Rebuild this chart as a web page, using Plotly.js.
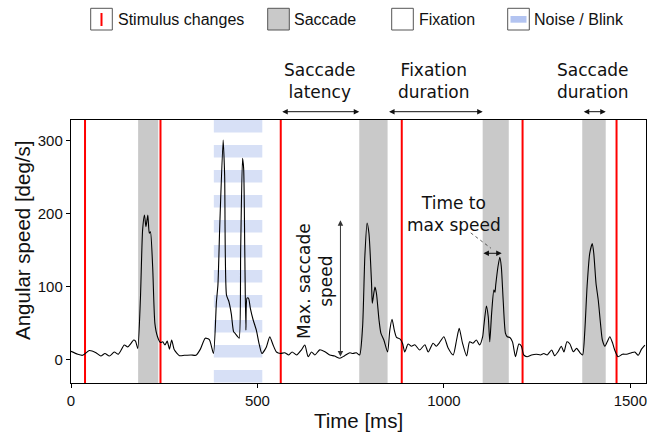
<!DOCTYPE html>
<html>
<head>
<meta charset="utf-8">
<script src="https://cdn.plot.ly/plotly-3.0.1.min.js"></script>
<style>
  html, body { margin: 0; padding: 0; background: #fff; }
  #chart { width: 647px; height: 436px; }
</style>
</head>
<body>
<div id="chart"></div>
<script>
// ---- data ----
const timeMs = [0,18,31,49,67,80,91,103,116,127,143,152,161,168,173,179,186,192,197,201,206,210,213,219,225,232,240,246,252,258,264,270,277,291,304,322,335,347,360,371,382,390,394,399,408,412,417,423,430,436,441,447,451,455,460,463,466,469,472,476,481,488,497,505,512,524,533,542,551,562,573,584,593,605,618,627,636,645,654,667,681,694,707,721,734,748,756,765,774,782,788,794,799,806,808,815,819,826,831,839,849,855,861,867,873,882,889,895,904,913,922,935,949,958,971,980,987,1000,1011,1025,1034,1041,1050,1061,1069,1078,1087,1096,1104,1107,1114,1119,1123,1128,1134,1137,1139,1145,1150,1154,1159,1165,1170,1177,1184,1192,1201,1208,1214,1223,1235,1248,1259,1268,1277,1289,1297,1306,1315,1322,1330,1338,1347,1356,1365,1372,1378,1384,1391,1398,1402,1408,1414,1420,1425,1432,1438,1445,1452,1458,1467,1479,1490,1503,1512,1521,1530,1539];
const speedDeg = [11,7,5.5,12,9,4.5,8,4.5,10,7,19.6,17,22,26.5,25,15,81,177,198,182,198,173,175,127,49,31,23,24,19.6,25,14,26.5,13,5,5.5,6,5.5,14,29,27,8,79,102,184,301,253,88,80,62,38,35,31,29,150,276,262,150,40,84,84,70,55,40,20,8,17,31,19.6,10,8,9,6,10,6,13,19.6,3.6,10,6,13,10.4,6,4.5,1.4,5,9,8,9,6,45,141,187,173,104,77,99,91,54,36,26.5,10,40,55,40,30,28,22,10,21,18,20,12.8,20,10,22,18,22,31,16,6,26.5,42.5,22,4.5,24,22,26.5,19.6,31,45,73,58,24,63,95,92,102,127,140,127,81,36,31,30,24,3.6,21,18,6,3.6,6,7,6,8,6,12.8,5,10.4,18,10,24,21,10.4,15,9,6,40,100,145,159,145,104,81,49,26.5,18,24,31,23,12.8,3.6,7,7,9,10,5.5,14,19.6];
const stimulusTimes = [37.6, 240, 562.5, 887, 1211, 1463];
const saccadeStarts = [180, 773, 1104, 1371];
const saccadeEnds   = [234, 849, 1174, 1434];
const noiseStarts = [383];
const noiseEnds   = [513];
const xTickVals = [0, 500, 1000, 1500];
const yTickVals = [0, 100, 200, 300];
const legendLabels = ["Stimulus changes", "Saccade", "Fixation", "Noise / Blink"];
const peakTimeSacc3 = 1152;
const peakSpeedLabelY = 145.5;
const maxSpeedArrowT = 722.6;
const maxSpeedTop = 191;
const maxSpeedBottom = 1.8;

// ---- layout geometry (pixels) ----
const W = 647, H = 436;
const M = {l: 71, r: 1, t: 120, b: 53};
const plotW = W - M.l - M.r, plotH = H - M.t - M.b;
const px = x => (x - M.l) / plotW;          // pixel x -> paper
const py = y => (H - M.b - y) / plotH;      // pixel y -> paper

const GREY = '#c9c9c9';
const STRIPE = '#d7e0f6';
const LEGBLUE = '#b3c4f1';
const TXT = '#111111';
const annFont = {family: 'DejaVu Sans', size: 17, color: TXT};
const sansFont = 'Liberation Sans, Arial';

const shapes = [];
// saccade spans
saccadeStarts.forEach((s, i) => {
  shapes.push({type: 'rect', xref: 'x', yref: 'paper', x0: s, x1: saccadeEnds[i], y0: 0, y1: 1,
               fillcolor: GREY, line: {width: 0}, layer: 'below'});
});
// noise / blink spans: horizontal hatch stripes
const period = 25 / plotH, thick = 12.4 / plotH;
noiseStarts.forEach((s, i) => {
  for (let k = 0; k < 11; k++) {
    const top = 1 - k * period;
    shapes.push({type: 'rect', xref: 'x', yref: 'paper', x0: s, x1: noiseEnds[i],
                 y0: Math.max(0, top - thick), y1: top,
                 fillcolor: STRIPE, line: {width: 0}, layer: 'below'});
  }
});
// stimulus changes
stimulusTimes.forEach(t => {
  shapes.push({type: 'line', xref: 'x', yref: 'paper', x0: t, x1: t, y0: 0, y1: 1,
               line: {color: '#ff0000', width: 2}, layer: 'below'});
});
// dotted pointer for "time to max speed"
shapes.push({type: 'line', xref: 'x', yref: 'y', x0: 1072, y0: 173.5, x1: 1126, y1: 152.5,
             line: {color: '#333', width: 0.8, dash: 'dot'}});

// legend (custom, above plot)
const legBoxes = [[90.7, 112.3], [267.7, 289.3], [391.7, 413.3], [507.7, 529.3]];
const legFills = ['#ffffff', GREY, '#ffffff', '#ffffff'];
const legTextX = [115.5, 292, 416.5, 532];
const ly0 = 8.3, ly1 = 30;
legBoxes.forEach((b, i) => {
  shapes.push({type: 'rect', xref: 'paper', yref: 'paper', x0: px(b[0]), x1: px(b[1]),
               y0: py(ly1), y1: py(ly0), fillcolor: legFills[i], line: {color: '#555', width: 1}});
});
shapes.push({type: 'line', xref: 'paper', yref: 'paper', x0: px(101.5), x1: px(101.5), y0: py(26), y1: py(13),
             line: {color: '#ff0000', width: 2}});
shapes.push({type: 'rect', xref: 'paper', yref: 'paper', x0: px(510.5), x1: px(526.5), y0: py(22.7), y1: py(16),
             fillcolor: LEGBLUE, line: {width: 0}});

const annotations = [];
legendLabels.forEach((t, i) => {
  annotations.push({xref: 'paper', yref: 'paper', x: px(legTextX[i]), y: py(19.5), text: t,
                    showarrow: false, xanchor: 'left', yanchor: 'middle',
                    font: {family: sansFont, size: 16, color: TXT}});
});

// y-axis title (placed as annotation to match its offset)
annotations.push({xref: 'paper', yref: 'paper', x: px(22), y: py(241), text: 'Angular speed [deg/s]',
                  textangle: -90, showarrow: false, xanchor: 'center', yanchor: 'middle',
                  font: {family: sansFont, size: 20.5, color: TXT}});

// top labels
const topArrowY = py(111.7);
const topTextY = py(80.5);
function hArrow(x0, x1, yv, yref, hs) {
  return {xref: 'x', yref: yref, x: x1, y: yv, axref: 'x', ax: x0,
          ayref: yref === 'paper' ? 'pixel' : 'y', ay: yref === 'paper' ? 0 : yv,
          showarrow: true, arrowside: 'end+start', arrowhead: 2, startarrowhead: 2,
          arrowsize: hs || 1.1, startarrowsize: hs || 1.1, arrowwidth: 1, arrowcolor: '#111', text: ''};
}
annotations.push(hArrow(stimulusTimes[2], saccadeStarts[1], topArrowY, 'paper'));
annotations.push(hArrow(saccadeEnds[1], saccadeStarts[2], topArrowY, 'paper'));
annotations.push(hArrow(saccadeStarts[3], saccadeEnds[3], topArrowY, 'paper'));
annotations.push({xref: 'x', yref: 'paper', x: (stimulusTimes[2] + saccadeStarts[1]) / 2 - 1, y: topTextY,
                  text: 'Saccade<br>latency', showarrow: false, font: annFont, yanchor: 'middle'});
annotations.push({xref: 'x', yref: 'paper', x: 973, y: topTextY,
                  text: 'Fixation<br>duration', showarrow: false, font: annFont, yanchor: 'middle'});
annotations.push({xref: 'x', yref: 'paper', x: 1399, y: topTextY,
                  text: 'Saccade<br>duration', showarrow: false, font: annFont, yanchor: 'middle'});

// max saccade speed
annotations.push({xref: 'x', yref: 'y', x: maxSpeedArrowT, y: maxSpeedTop, axref: 'x', ayref: 'y',
                  ax: maxSpeedArrowT, ay: maxSpeedBottom, showarrow: true, arrowside: 'end+start',
                  arrowhead: 2, startarrowhead: 2, arrowsize: 1.1, startarrowsize: 1.1,
                  arrowwidth: 1, arrowcolor: '#333', text: ''});
annotations.push({xref: 'x', yref: 'y', x: 656, y: 107, text: 'Max. saccade<br>speed', textangle: -90,
                  showarrow: false, font: annFont});
// time to max speed
annotations.push(hArrow(saccadeStarts[2] - 2, peakTimeSacc3 + 3, peakSpeedLabelY, 'y', 1.1));
annotations.push({xref: 'x', yref: 'y', x: 1028, y: 199, text: 'Time to<br>max speed',
                  showarrow: false, font: annFont, yanchor: 'middle'});

const trace = {
  x: timeMs, y: speedDeg, type: 'scatter', mode: 'lines',
  line: {color: '#000', width: 1.1, shape: 'spline', smoothing: 0.6},
  hoverinfo: 'skip', showlegend: false
};

const axisFont = {family: sansFont, size: 15, color: TXT};
const layout = {
  width: W, height: H,
  margin: M,
  paper_bgcolor: '#fff', plot_bgcolor: '#fff',
  showlegend: false,
  xaxis: {
    range: [0, 1542], tickvals: xTickVals, ticktext: xTickVals.map(String),
    showgrid: false, zeroline: false, showline: true, mirror: true, linecolor: '#000', linewidth: 1.2,
    ticks: 'outside', ticklen: 4, tickcolor: '#000', tickfont: axisFont, ticklabeloverflow: 'allow',
    automargin: false,
    title: {text: 'Time [ms]', font: {family: sansFont, size: 20.5, color: TXT}, standoff: 5}
  },
  yaxis: {
    range: [-32.5, 328.4], tickvals: yTickVals, ticktext: yTickVals.map(String),
    showgrid: false, zeroline: false, showline: true, mirror: true, linecolor: '#000', linewidth: 1.2,
    ticks: 'outside', ticklen: 4, tickcolor: '#000', tickfont: axisFont, automargin: false
  },
  shapes: shapes,
  annotations: annotations
};

Plotly.newPlot('chart', [trace], layout, {staticPlot: true, displayModeBar: false});
</script>
</body>
</html>
